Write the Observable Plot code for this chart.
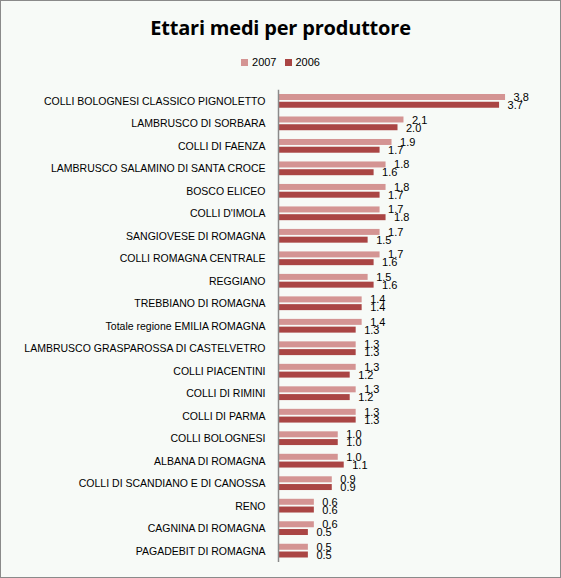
<!DOCTYPE html>
<html>
<head>
<meta charset="utf-8">
<script src="https://cdn.jsdelivr.net/npm/d3@7"></script>
<script src="https://cdn.jsdelivr.net/npm/@observablehq/plot@0.6"></script>
<style>
  html, body { margin: 0; padding: 0; background: #ffffff; }
  #frame {
    position: relative; box-sizing: border-box;
    width: 561px; height: 578px;
    border: 1px solid #8a8a8a; background: #f7faf7;
    font-family: "Liberation Sans", Arial, sans-serif;
  }
  #title {
    position: absolute; left: 0; top: 13px; width: 100%;
    text-align: center; font-weight: bold; font-size: 20px; color: #000;
    font-family: "Open Sans", "Liberation Sans", sans-serif;
    letter-spacing: -0.2px;
  }
  #legend {
    position: absolute; left: 0; top: 55px; width: 100%;
    text-align: center; font-size: 11px; color: #000;
  }
  #legend span.sw { display: inline-block; width: 7px; height: 7px; margin-right: 4px; vertical-align: 0px; }
  #legend span.item { margin: 0 4px; }
  #chart { position: absolute; left: -1px; top: 79px; width: 561px; }
  #chart svg { max-width: none !important; }
</style>
</head>
<body>
<div id="frame">
  <div id="title">Ettari medi per produttore</div>
  <div id="legend"></div>
  <div id="chart"></div>
</div>
<script>
const categories = [
  "COLLI BOLOGNESI CLASSICO PIGNOLETTO",
  "LAMBRUSCO DI SORBARA",
  "COLLI DI FAENZA",
  "LAMBRUSCO SALAMINO DI SANTA CROCE",
  "BOSCO ELICEO",
  "COLLI D'IMOLA",
  "SANGIOVESE DI ROMAGNA",
  "COLLI ROMAGNA CENTRALE",
  "REGGIANO",
  "TREBBIANO DI ROMAGNA",
  "Totale regione EMILIA ROMAGNA",
  "LAMBRUSCO GRASPAROSSA DI CASTELVETRO",
  "COLLI PIACENTINI",
  "COLLI DI RIMINI",
  "COLLI DI PARMA",
  "COLLI BOLOGNESI",
  "ALBANA DI ROMAGNA",
  "COLLI DI SCANDIANO E DI CANOSSA",
  "RENO",
  "CAGNINA DI ROMAGNA",
  "PAGADEBIT DI ROMAGNA"
];
const values2007 = [3.8, 2.1, 1.9, 1.8, 1.8, 1.7, 1.7, 1.7, 1.5, 1.4, 1.4, 1.3, 1.3, 1.3, 1.3, 1.0, 1.0, 0.9, 0.6, 0.6, 0.5];
const values2006 = [3.7, 2.0, 1.7, 1.6, 1.7, 1.8, 1.5, 1.6, 1.6, 1.4, 1.3, 1.3, 1.2, 1.2, 1.3, 1.0, 1.1, 0.9, 0.6, 0.5, 0.5];
const seriesNames = ["2007", "2006"];
const seriesColors = ["#d49493", "#aa4544"];

const d07 = categories.map((c, i) => ({cat: c, v: values2007[i]}));
const d06 = categories.map((c, i) => ({cat: c, v: values2006[i]}));

const legend = document.getElementById("legend");
legend.innerHTML = seriesNames.map((s, i) =>
  `<span class="item"><span class="sw" style="background:${seriesColors[i]}"></span>${s}</span>`).join("");

const fmt = d3.format(".1f");
const chart = Plot.plot({
  width: 561,
  height: 491,
  marginTop: 9.75,
  marginBottom: 9,
  marginLeft: 278,
  marginRight: 44,
  style: {background: "transparent", fontFamily: "Liberation Sans, Arial, sans-serif", fontSize: "10.5px", color: "#000"},
  x: {domain: [0, 4], axis: null},
  y: {domain: categories, padding: 0, round: false, label: null, tickSize: 0, tickPadding: 13},
  marks: [
    Plot.barX(d07, {x: "v", y: "cat", fill: seriesColors[0], insetTop: 4.25, insetBottom: 12.25}),
    Plot.barX(d06, {x: "v", y: "cat", fill: seriesColors[1], insetTop: 12, insetBottom: 4.5}),
    Plot.text(d07, {x: "v", y: "cat", text: d => fmt(d.v), textAnchor: "start", dx: 8, dy: -4, fill: "#000", fontSize: 11}),
    Plot.text(d06, {x: "v", y: "cat", text: d => fmt(d.v), textAnchor: "start", dx: 8, dy: 4, fill: "#000", fontSize: 11}),
    Plot.ruleX([0], {stroke: "#8a8a8a", strokeWidth: 1.5})
  ]
});
document.getElementById("chart").appendChild(chart);
</script>
</body>
</html>
